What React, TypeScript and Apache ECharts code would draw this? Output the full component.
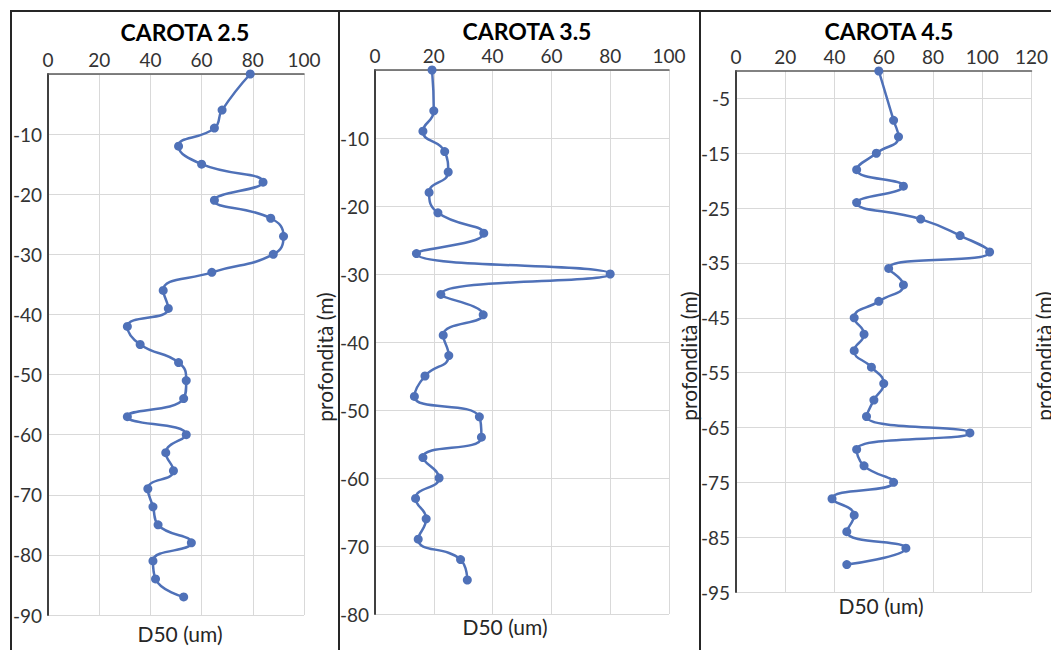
import React, { useEffect, useRef } from 'react';
import * as echarts from 'echarts';

// CAROTA 2.5
const depth1 = [0, -6, -9, -12, -15, -18, -21, -24, -27, -30, -33, -36, -39, -42, -45, -48, -51, -54, -57, -60, -63, -66, -69, -72, -75, -78, -81, -84, -87];
const d50_1 = [79, 68, 65, 51, 60, 84, 65, 87, 92, 88, 64, 45, 47, 31, 36, 51, 54, 53, 31, 54, 46, 49, 39, 41, 43, 56, 41, 42, 53];

// CAROTA 3.5
const depth2 = [0, -6, -9, -12, -15, -18, -21, -24, -27, -30, -33, -36, -39, -42, -45, -48, -51, -54, -57, -60, -63, -66, -69, -72, -75];
const d50_2 = [19.4, 20, 16.3, 23.7, 24.9, 18.4, 21.4, 37, 14.1, 80, 22.4, 36.8, 23.2, 25.1, 17, 13.4, 35.5, 36.2, 16.3, 21.8, 13.8, 17.4, 14.7, 29.1, 31.4];

// CAROTA 4.5
const depth3 = [0, -9, -12, -15, -18, -21, -24, -27, -30, -33, -36, -39, -42, -45, -48, -51, -54, -57, -60, -63, -66, -69, -72, -75, -78, -81, -84, -87, -90];
const d50_3 = [58, 64, 66, 57, 49, 68, 49, 75, 91, 103, 62, 68, 58, 48, 52, 48, 55, 60, 56, 53, 95, 49, 52, 64, 39, 48, 45, 69, 45];

const titles = ['CAROTA 2.5', 'CAROTA 3.5', 'CAROTA 4.5'];
const xMax = [100, 100, 120];
const yMin = [-90, -80, -95];
const yTicks3 = [-5, -15, -25, -35, -45, -55, -65, -75, -85, -95];
const xName = 'D50 (um)';
const yName = 'profondità (m)';

const FONT = 'Lato, "Open Sans", sans-serif';
const LINE_COLOR = '#4f71b8';

export default function App() {
  const ref = useRef<HTMLDivElement>(null);
  useEffect(() => {
    document.body.style.margin = '0';
    const chart = echarts.init(ref.current!, null, { renderer: 'svg' });
    const grids = [
      { left: 48, top: 74, width: 256, height: 541 },
      { left: 375, top: 70, width: 294, height: 544 },
      { left: 736, top: 71, width: 296, height: 521 },
    ];
    const datasets = [
      [depth1, d50_1],
      [depth2, d50_2],
      [depth3, d50_3],
    ];
    const labelStyle = { fontFamily: FONT, fontSize: 19, color: '#333333' };
    const option: any = {
      animation: false,
      grid: grids.map((g) => ({ ...g, containLabel: false })),
      xAxis: grids.map((_, i) => ({
        type: 'value',
        gridIndex: i,
        position: 'top',
        min: 0,
        max: xMax[i],
        interval: 20,
        axisLine: { show: true, onZero: false, lineStyle: { color: '#595959', width: 1.5 } },
        axisTick: { show: false },
        axisLabel: { ...labelStyle, margin: 5 },
        splitLine: { show: true, lineStyle: { color: '#d9d9d9', width: 1 } },
      })),
      yAxis: grids.map((_, i) => {
        const base: any = {
          type: 'value',
          gridIndex: i,
          position: 'left',
          min: yMin[i],
          max: 0,
          axisLine: { show: true, onZero: false, lineStyle: { color: '#404040', width: 2 } },
          axisTick: { show: false },
          axisLabel: {
            ...labelStyle,
            margin: 6,
            formatter: (v: number) => (v === 0 ? '' : String(v)),
          },
          splitLine: { show: true, lineStyle: { color: '#d9d9d9', width: 1 } },
        };
        if (i === 2) {
          base.axisLabel.customValues = yTicks3;
          base.axisTick = { show: false, customValues: yTicks3 };
        } else {
          base.interval = 10;
        }
        return base;
      }),
      series: datasets.map(([depth, d50], i) => ({
        type: 'line',
        xAxisIndex: i,
        yAxisIndex: i,
        data: d50.map((v, k) => [v, depth[k]]),
        smooth: 0.5,
        symbol: 'circle',
        symbolSize: 9,
        lineStyle: { color: LINE_COLOR, width: 2.5 },
        itemStyle: { color: LINE_COLOR },
      })),
      graphic: [
        { type: 'line', shape: { x1: 10, y1: 11, x2: 1051, y2: 11 }, style: { stroke: '#262626', lineWidth: 2 } },
        { type: 'line', shape: { x1: 11, y1: 11, x2: 11, y2: 650 }, style: { stroke: '#262626', lineWidth: 2 } },
        { type: 'line', shape: { x1: 339, y1: 11, x2: 339, y2: 650 }, style: { stroke: '#262626', lineWidth: 2 } },
        { type: 'line', shape: { x1: 700, y1: 11, x2: 700, y2: 650 }, style: { stroke: '#262626', lineWidth: 2 } },
        ...[[185, 32], [527, 31], [889, 31]].map(([x, y], i) => ({
          type: 'text', x, y,
          style: { text: titles[i], align: 'center', verticalAlign: 'middle', fontFamily: FONT, fontSize: 23, fontWeight: 'bold', fill: '#000' },
        })),
        ...[[180, 633], [505, 626], [881, 605]].map(([x, y]) => ({
          type: 'text', x, y,
          style: { text: xName, align: 'center', verticalAlign: 'middle', fontFamily: FONT, fontSize: 21, fill: '#262626' },
        })),
        ...[[324, 357], [688, 356], [1043, 356]].map(([x, y]) => ({
          type: 'text', x, y, rotation: Math.PI / 2,
          style: { text: yName, align: 'center', verticalAlign: 'middle', fontFamily: FONT, fontSize: 21, fill: '#262626' },
        })),
      ],
    };
    chart.setOption(option);
    return () => chart.dispose();
  }, []);
  return <div ref={ref} style={{ width: 1051, height: 650 }} />;
}
